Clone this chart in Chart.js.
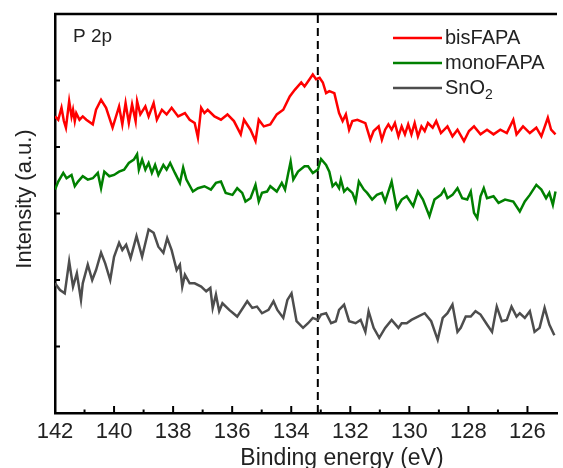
<!DOCTYPE html>
<html lang="en">
  <head>
    <meta charset="UTF-8" />
    <meta name="viewport" content="width=device-width, initial-scale=1.0" />
    <title>P 2p</title>
    <style>
      html,
      body {
        margin: 0;
        padding: 0;
        background: #fff;
      }
    </style>
  </head>
  <body>
    <canvas id="xpsChart" width="563" height="468"></canvas>

    <script src="https://cdn.jsdelivr.net/npm/chart.js"></script>

    <script>
      // binding energy (eV) and intensity (a.u.)
      const bisEnergy = [
        142.0, 141.89, 141.78, 141.7, 141.63, 141.52, 141.44, 141.39, 141.33, 141.28, 141.17, 141.06,
        140.94, 140.72, 140.61, 140.44, 140.27, 140.05, 139.83, 139.72, 139.61, 139.5, 139.39, 139.27,
        139.22, 139.11, 138.94, 138.83, 138.66, 138.55, 138.38, 138.22, 138.05, 137.83, 137.6, 137.44,
        137.27, 137.16, 137.05, 136.94, 136.83, 136.6, 136.38, 136.16, 135.94, 135.71, 135.6, 135.38,
        135.21, 135.1, 134.93, 134.71, 134.49, 134.27, 134.05, 133.88, 133.66, 133.55, 133.38, 133.27,
        133.16, 133.04, 132.93, 132.82, 132.71, 132.54, 132.38, 132.26, 132.15, 132.04, 131.93, 131.76,
        131.49, 131.32, 131.21, 131.04, 130.93, 130.82, 130.71, 130.6, 130.49, 130.37, 130.26, 130.15,
        130.04, 129.93, 129.82, 129.71, 129.59, 129.48, 129.37, 129.21, 129.09, 128.93, 128.71, 128.54,
        128.37, 128.15, 127.98, 127.81, 127.59, 127.37, 127.15, 126.92, 126.7, 126.48, 126.37, 126.15,
        125.92, 125.7, 125.53, 125.31, 125.2, 125.05,
      ];
      const bisIntensity = [
        44.6, 44.1, 45.9, 43.9, 42.9, 46.9, 44.6, 45.6, 43.9, 45.1, 44.1, 44.6, 44.1, 43.4, 45.6, 47.1,
        45.9, 42.9, 46.1, 43.4, 46.6, 43.6, 46.4, 43.9, 46.9, 44.9, 46.1, 44.6, 46.6, 44.1, 45.6, 44.9,
        45.9, 44.6, 45.1, 44.1, 43.6, 41.4, 45.9, 45.1, 45.6, 44.6, 44.1, 44.9, 43.9, 41.9, 44.1, 42.6,
        40.9, 44.1, 43.1, 43.4, 44.9, 45.6, 47.6, 48.6, 49.7, 49.1, 50.2, 50.9, 50.2, 50.4, 49.7, 48.1,
        48.4, 48.1, 45.1, 43.9, 44.9, 42.6, 43.9, 44.1, 43.6, 41.1, 42.4, 43.1, 41.1, 42.6, 43.4, 42.6,
        43.6, 41.6, 43.1, 41.9, 43.4, 41.9, 43.6, 41.6, 43.1, 42.4, 43.6, 42.9, 43.9, 42.1, 43.1, 41.6,
        42.6, 40.9, 42.4, 43.1, 41.9, 42.6, 41.9, 42.6, 42.1, 44.1, 41.9, 43.1, 42.1, 42.9, 41.6, 44.4,
        42.6, 41.9,
      ];

      const monoEnergy = [
        142.0, 141.89, 141.72, 141.61, 141.44, 141.33, 141.22, 141.06, 140.89, 140.72, 140.55, 140.44,
        140.33, 140.16, 140.0, 139.83, 139.66, 139.5, 139.33, 139.22, 139.16, 139.05, 138.94, 138.83,
        138.72, 138.61, 138.5, 138.33, 138.22, 138.1, 137.94, 137.77, 137.66, 137.55, 137.33, 137.16,
        136.94, 136.72, 136.55, 136.38, 136.22, 135.99, 135.83, 135.66, 135.55, 135.38, 135.21, 135.1,
        134.99, 134.82, 134.71, 134.49, 134.32, 134.21, 134.1, 134.02, 133.93, 133.77, 133.55, 133.43,
        133.27, 133.1, 132.99, 132.82, 132.71, 132.6, 132.49, 132.38, 132.32, 132.21, 132.1, 131.93,
        131.82, 131.71, 131.54, 131.43, 131.26, 131.1, 130.93, 130.82, 130.6, 130.43, 130.26, 130.09,
        129.87, 129.71, 129.54, 129.32, 129.15, 128.93, 128.82, 128.71, 128.54, 128.37, 128.21, 128.04,
        127.92, 127.81, 127.7, 127.59, 127.48, 127.37, 127.15, 126.98, 126.76, 126.48, 126.26, 126.09,
        125.92, 125.7, 125.53, 125.37, 125.26, 125.14, 125.05,
      ];
      const monoIntensity = [
        33.6, 34.8, 36.1, 35.3, 35.8, 34.1, 34.8, 35.6, 35.1, 35.3, 36.1, 33.8, 36.3, 35.6, 35.8, 36.3,
        36.6, 37.6, 38.1, 38.9, 36.6, 38.1, 36.6, 37.6, 36.1, 37.3, 35.8, 37.3, 36.6, 37.6, 36.1, 34.6,
        36.9, 35.1, 33.3, 33.8, 34.1, 33.6, 34.6, 34.8, 33.1, 32.8, 33.8, 33.1, 31.8, 32.3, 34.3, 31.8,
        33.1, 33.3, 34.1, 33.3, 34.6, 33.6, 36.1, 37.8, 35.1, 36.3, 37.1, 37.1, 36.1, 36.6, 38.2, 37.3,
        36.3, 34.1, 34.6, 33.8, 35.1, 33.3, 33.8, 33.1, 31.8, 34.8, 33.6, 33.1, 32.1, 32.8, 33.1, 31.8,
        34.8, 30.8, 32.1, 32.6, 31.1, 33.3, 32.1, 29.6, 32.1, 32.8, 33.6, 32.3, 32.8, 33.8, 32.3, 32.1,
        33.3, 30.1, 29.3, 32.6, 33.8, 32.3, 32.6, 31.6, 32.1, 31.8, 30.3, 31.8, 32.8, 34.3, 33.6, 32.3,
        33.1, 31.3, 33.3,
      ];

      const sno2Energy = [
        142.0, 141.83, 141.67, 141.52, 141.39, 141.26, 141.12, 141.06, 140.89, 140.74, 140.61, 140.44,
        140.3, 140.13, 140.0, 139.83, 139.72, 139.59, 139.44, 139.24, 139.05, 138.83, 138.66, 138.5,
        138.33, 138.2, 138.05, 137.88, 137.77, 137.69, 137.6, 137.44, 137.27, 137.05, 136.88, 136.74,
        136.66, 136.55, 136.44, 136.33, 136.1, 135.83, 135.49, 135.32, 135.16, 134.99, 134.77, 134.6,
        134.47, 134.27, 134.13, 133.99, 133.82, 133.6, 133.43, 133.27, 133.1, 132.99, 132.82, 132.65,
        132.49, 132.38, 132.21, 132.04, 131.82, 131.65, 131.49, 131.38, 131.21, 131.02, 130.82, 130.6,
        130.37, 130.26, 130.09, 129.93, 129.71, 129.48, 129.26, 129.04, 128.87, 128.71, 128.54, 128.37,
        128.26, 128.09, 127.92, 127.76, 127.59, 127.37, 127.2, 127.04, 126.87, 126.7, 126.54, 126.37,
        126.26, 126.09, 125.92, 125.76, 125.59, 125.42, 125.26, 125.09,
      ];
      const sno2Intensity = [
        19.5, 18.5, 18.0, 22.8, 19.0, 21.0, 17.0, 19.5, 22.3, 20.0, 21.5, 24.1, 22.5, 20.0, 23.5, 25.6,
        24.5, 25.3, 23.3, 26.6, 23.5, 27.6, 27.1, 25.0, 24.1, 26.3, 24.5, 21.5, 22.3, 19.0, 20.8, 19.5,
        19.5, 19.0, 18.3, 18.8, 15.8, 17.8, 15.3, 16.5, 15.5, 14.5, 16.8, 15.8, 16.0, 15.0, 15.5, 16.8,
        15.5, 14.3, 17.0, 18.0, 13.8, 12.8, 13.5, 14.3, 14.0, 14.8, 15.0, 13.5, 13.8, 15.5, 16.3, 13.8,
        13.5, 14.0, 12.2, 15.3, 12.8, 11.3, 12.8, 14.0, 12.8, 13.5, 13.5, 14.0, 14.5, 15.0, 13.8, 11.0,
        14.3, 15.0, 16.3, 12.2, 12.8, 14.5, 14.5, 15.3, 14.8, 13.3, 12.2, 16.0, 13.8, 14.0, 16.0, 14.5,
        15.0, 14.3, 15.3, 12.2, 12.8, 15.8, 13.3, 11.7,
      ];

      const seriesNames = ["bisFAPA", "monoFAPA", "SnO₂"];
      const peakPosition = 133.1;
      const xMajorTicks = [142, 140, 138, 136, 134, 132, 130, 128, 126];
      const xMinorTicks = [141, 139, 137, 135, 133, 131, 129, 127];
      const yTicks = [10, 20, 30, 40, 50];

      const font = "Liberation Sans, Arial, sans-serif";
      const colors = ["#ff0000", "#008000", "#4d4d4d"];

      function points(xs, ys) {
        return xs.map((x, i) => ({ x: x, y: ys[i] }));
      }

      // frame, inside ticks, labels and legend
      const decorations = {
        id: "decorations",
        afterDraw(chart) {
          const { ctx, chartArea: a, scales } = chart;
          const x = scales.x;
          const y = scales.y;
          ctx.save();
          ctx.strokeStyle = "#000";
          ctx.lineWidth = 2.5;
          ctx.beginPath();
          ctx.moveTo(a.left - 1, a.top);
          ctx.lineTo(a.right, a.top);
          ctx.stroke();

          ctx.lineWidth = 2;
          xMajorTicks.forEach((v) => {
            const px = x.getPixelForValue(v);
            ctx.beginPath();
            ctx.moveTo(px, a.bottom);
            ctx.lineTo(px, a.bottom - 7);
            ctx.stroke();
          });
          xMinorTicks.forEach((v) => {
            const px = x.getPixelForValue(v);
            ctx.beginPath();
            ctx.moveTo(px, a.bottom);
            ctx.lineTo(px, a.bottom - 3.5);
            ctx.stroke();
          });
          yTicks.forEach((v) => {
            const py = y.getPixelForValue(v);
            ctx.beginPath();
            ctx.moveTo(a.left, py);
            ctx.lineTo(a.left + 5, py);
            ctx.stroke();
          });

          ctx.fillStyle = "#222";
          ctx.textBaseline = "alphabetic";
          ctx.textAlign = "left";
          ctx.font = "19px " + font;
          ctx.fillText("P 2p", a.left + 18, a.top + 28);

          // legend
          ctx.font = "20px " + font;
          seriesNames.forEach((name, i) => {
            const ly = a.top + 24 + i * 25;
            ctx.strokeStyle = colors[i];
            ctx.lineWidth = 2.5;
            ctx.beginPath();
            ctx.moveTo(393, ly);
            ctx.lineTo(442, ly);
            ctx.stroke();
            ctx.fillStyle = "#222";
            ctx.textBaseline = "middle";
            if (name.endsWith("₂")) {
              const base = name.slice(0, -1);
              ctx.fillText(base, 445, ly);
              const w = ctx.measureText(base).width;
              ctx.font = "14px " + font;
              ctx.fillText("2", 445 + w, ly + 7);
              ctx.font = "20px " + font;
            } else {
              ctx.fillText(name, 445, ly);
            }
          });

          // axis titles
          ctx.font = "23px " + font;
          ctx.textAlign = "center";
          ctx.textBaseline = "alphabetic";
          ctx.fillText("Binding energy (eV)", a.left + 287, 465);
          ctx.save();
          ctx.translate(25, 199);
          ctx.rotate(-Math.PI / 2);
          ctx.textBaseline = "middle";
          ctx.font = "22px " + font;
          ctx.fillText("Intensity (a.u.)", 0, 0);
          ctx.restore();
          ctx.restore();
        },
      };

      const chart = new Chart(document.getElementById("xpsChart"), {
        type: "line",
        data: {
          datasets: [
            {
              label: seriesNames[0],
              data: points(bisEnergy, bisIntensity),
              borderColor: colors[0],
            },
            {
              label: seriesNames[1],
              data: points(monoEnergy, monoIntensity),
              borderColor: colors[1],
            },
            {
              label: seriesNames[2],
              data: points(sno2Energy, sno2Intensity),
              borderColor: colors[2],
            },
            {
              label: "peak",
              data: [
                { x: peakPosition, y: 0 },
                { x: peakPosition, y: 60 },
              ],
              borderColor: "#000",
              borderWidth: 2,
              borderDash: [8, 5],
            },
          ],
        },
        options: {
          responsive: false,
          animation: false,
          layout: { padding: { top: 14, right: 0, left: 0, bottom: 0 } },
          elements: {
            line: { borderWidth: 2.5, tension: 0 },
            point: { radius: 0 },
          },
          plugins: {
            legend: { display: false },
            tooltip: { enabled: false },
          },
          scales: {
            x: {
              type: "linear",
              reverse: true,
              min: 125,
              max: 142,
              grid: { display: false, drawTicks: false },
              border: { display: true, color: "#000", width: 2.5 },
              ticks: {
                stepSize: 1,
                autoSkip: false,
                maxRotation: 0,
                padding: 6,
                color: "#222",
                font: { family: font, size: 22 },
                callback: (v) => (xMajorTicks.includes(v) ? String(v) : ""),
              },
              afterFit: (s) => {
                s.height = 55;
              },
            },
            y: {
              min: 0,
              max: 60,
              grid: { display: false, drawTicks: false },
              border: { display: true, color: "#000", width: 2.5 },
              ticks: { display: false },
              afterFit: (s) => {
                s.width = 55;
              },
            },
          },
        },
        plugins: [decorations],
      });
    </script>
  </body>
</html>
